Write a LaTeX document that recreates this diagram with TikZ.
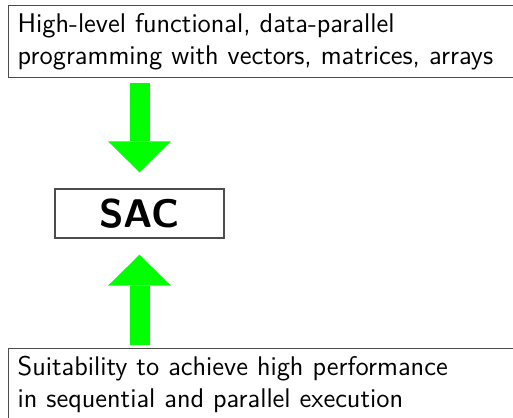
\documentclass[tikz,border=0pt]{standalone}
\usetikzlibrary{arrows.meta}

\begin{document}
\begin{tikzpicture}[x=0.5pt,y=-0.5pt,
    textbox/.style={draw=black!70,line width=0.7pt,anchor=north west,text width=255pt,align=left,
      minimum height=36pt,inner xsep=4.5pt,inner ysep=0pt,font=\sffamily\fontsize{13.5}{16}\selectfont},
    fatarrow/.style={draw=green,line width=10pt,-{Triangle[width=31.5pt,length=15.5pt,line width=0pt]}}]
        \useasboundingbox (0,0) rectangle (513,417);
        \node [textbox] (goal) at (8,5) {High-level functional, data-parallel\\programming with vectors, matrices, arrays};
        \node [draw=black!70,line width=0.7pt,minimum width=84.5pt,minimum height=24.5pt,inner sep=0pt,
          font=\sffamily\bfseries\fontsize{20}{24}\selectfont] (sac) at (139.5,213.5) {SAC};
        \node [textbox] (perf) at (8,348) {Suitability to achieve high performance\\in sequential and parallel execution};

        % arrows into the SAC box
        \draw [fatarrow,shorten <=2.5pt,shorten >=8pt] (goal.south -| sac.north) -- (sac.north);
        \draw [fatarrow,shorten <=1.5pt,shorten >=8pt] (perf.north -| sac.south) -- (sac.south);
      \end{tikzpicture}
\end{document}
